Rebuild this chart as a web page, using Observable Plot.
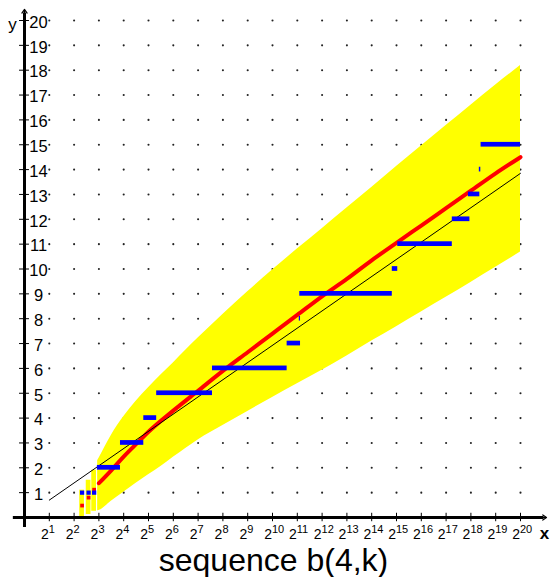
<!DOCTYPE html>
<html><head><meta charset="utf-8">
<script src="https://cdn.jsdelivr.net/npm/d3@7"></script>
<script src="https://cdn.jsdelivr.net/npm/@observablehq/plot@0.6"></script>
<style>body{margin:0;background:#fff}</style>
</head><body><div id="chart"></div>
<script>
const FONT = '"Liberation Sans", Arial, Helvetica, sans-serif';

// tick values (x axis = exponent of 2, y axis = k)
const xTicks = [1,2,3,4,5,6,7,8,9,10,11,12,13,14,15,16,17,18,19,20];
const yTicks = [1,2,3,4,5,6,7,8,9,10,11,12,13,14,15,16,17,18,19,20];

// yellow band: exponent, lower, upper
const bandExp   = [2.95, 3.0, 3.5, 4.0, 4.5, 5.0, 5.5, 6.0, 6.5, 7.0, 8.0, 9.0, 10.0, 11.0, 12.0, 13.0, 14.0, 15.0, 16.0, 17.0, 18.0, 19.0, 20.0];
const bandLower = [0.27, 0.28, 0.65, 1.02, 1.38, 1.72, 2.05, 2.42, 2.78, 3.12, 3.7, 4.27, 4.83, 5.38, 5.93, 6.5, 7.1, 7.68, 8.27, 8.86, 9.46, 10.07, 10.68];
const bandUpper = [2.28, 2.37, 3.3, 4.05, 4.68, 5.22, 5.73, 6.22, 6.73, 7.22, 8.17, 9.08, 9.96, 10.8, 11.62, 12.45, 13.28, 14.12, 14.95, 15.77, 16.59, 17.4, 18.19];

// small n columns of the band
const smallN     = [5, 6, 7];
const smallLower = [0.0, 0.12, 0.25];
const smallUpper = [1.1, 1.5, 1.9];
const smallRed   = [0.48, 0.8, 1.12];
const smallBlue  = [1, 1, 1];

// red curve
const redExp = [3.0, 3.5, 4.0, 4.6, 5.0, 6.0, 7.0, 8.0, 9.0, 10.0, 11.0, 12.0, 13.0, 14.0, 15.0, 16.0, 17.0, 18.0, 19.0, 20.0];
const redVal = [1.38, 1.9, 2.45, 3.05, 3.45, 4.3, 5.1, 5.9, 6.65, 7.4, 8.15, 8.9, 9.6, 10.35, 11.05, 11.75, 12.45, 13.15, 13.85, 14.5];

// thin black line (ln n)
const lnExp = [1, 20];
const lnVal = [0.7, 13.85];

// blue segments b(4,k): start exponent, end exponent, k
const barStart = [2.94, 3.87, 4.81, 5.33, 7.58, 10.59, 11.08, 11.10, 14.83, 15.05, 17.25, 17.90, 18.34, 18.41];
const barEnd   = [3.87, 4.81, 5.33, 7.58, 10.59, 11.13, 11.13, 14.83, 15.05, 17.25, 17.96, 18.36, 18.40, 20.0];
const barK     = [2, 3, 4, 5, 6, 7, 8, 9, 10, 11, 12, 13, 14, 15];

const grid = xTicks.flatMap(x => yTicks.map(y => ({x, y})));
const band = bandExp.map((e, i) => ({e, lo: bandLower[i], hi: bandUpper[i]}));
const small = smallN.map((n, i) => ({e: Math.log2(n), lo: smallLower[i], hi: smallUpper[i], r: smallRed[i], b: smallBlue[i]}));
const red = redExp.map((e, i) => ({e, v: redVal[i]}));
const ln = lnExp.map((e, i) => ({e, v: lnVal[i]}));
const bars = barK.map((k, i) => ({x1: barStart[i], x2: barEnd[i], k}));

const YEL = "#ffff00", RED = "#ff0000", BLUE = "#0000ff";

const plot = Plot.plot({
  width: 550, height: 577,
  marginLeft: 24, marginRight: 30, marginTop: 20, marginBottom: 60,
  style: {fontFamily: FONT, background: "#fff", overflow: "visible"},
  x: {domain: [0, 20], axis: null},
  y: {domain: [0, 20], axis: null},
  marks: [
    Plot.dot(grid, {x: "x", y: "y", r: 1.05, fill: "#222", stroke: null}),
    Plot.rect(small, {x1: d => d.e - 0.095, x2: d => d.e + 0.095, y1: "lo", y2: "hi", fill: YEL}),
    Plot.areaY(band, {x: "e", y1: "lo", y2: "hi", fill: YEL, curve: "monotone-x"}),
    Plot.line(red, {x: "e", y: "v", stroke: RED, strokeWidth: 4, curve: "monotone-x"}),
    Plot.dot(small, {x: "e", y: "r", symbol: "square", r: 2.1, fill: RED, stroke: null}),
    Plot.line(ln, {x: "e", y: "v", stroke: "#000", strokeWidth: 1}),
    Plot.rect(bars, {x1: "x1", x2: "x2", y1: d => d.k - 0.095, y2: d => d.k + 0.095, fill: BLUE}),
    Plot.dot(small, {x: "e", y: "b", symbol: "square", r: 2.4, fill: BLUE, stroke: null}),
    // axes
    Plot.ruleY([0], {x1: -0.45, x2: 20.95, stroke: "#000", strokeWidth: 3}),
    Plot.ruleX([0], {y1: -0.4, y2: 20.3, stroke: "#000", strokeWidth: 3}),
    Plot.arrow([{x1: 20.5, x2: 21.05, y: 0}], {x1: "x1", x2: "x2", y1: "y", y2: "y", stroke: "#000", strokeWidth: 1.2, headLength: 8, headAngle: 70}),
    Plot.arrow([{y1: 19.9, y2: 20.45, x: 0}], {x1: "x", x2: "x", y1: "y1", y2: "y2", stroke: "#000", strokeWidth: 1.2, headLength: 8, headAngle: 70}),
    Plot.ruleY(yTicks, {x1: -0.2, x2: 0.2, stroke: "#000", strokeWidth: 1}),
    Plot.ruleX(xTicks, {y1: -0.17, y2: 0.17, stroke: "#000", strokeWidth: 1}),
    // y tick labels
    Plot.text(yTicks, {x: 0, y: d => d, text: d => String(d), dx: 14, dy: 2, textAnchor: "middle", fontSize: 16.5, fill: "#000"}),
    // x tick labels: 2 with superscript exponent
    Plot.text(xTicks, {x: d => d, y: 0, text: () => "2", dx: -0.5, dy: 21, lineAnchor: "bottom", textAnchor: "end", fontSize: 14, fill: "#000"}),
    Plot.text(xTicks, {x: d => d, y: 0, text: d => String(d), dx: -0.5, dy: 15, lineAnchor: "bottom", textAnchor: "start", fontSize: 11, fill: "#000"}),
    // axis names
    Plot.text(["y"], {x: 0, y: 20, text: d => d, dx: -12, dy: 9, lineAnchor: "bottom", textAnchor: "middle", fontSize: 17, fill: "#000"}),
    Plot.text(["x"], {x: 20, y: 0, text: d => d, dx: 24, dy: 21, lineAnchor: "bottom", textAnchor: "middle", fontSize: 17, fontWeight: "bold", fill: "#000"}),
    // caption
    Plot.text(["sequence b(4,k)"], {x: 10, y: 0, text: d => d, dx: 1, dy: 53, lineAnchor: "bottom", textAnchor: "middle", fontSize: 32, fill: "#000"})
  ]
});
document.getElementById("chart").appendChild(plot);
</script>
</body></html>
